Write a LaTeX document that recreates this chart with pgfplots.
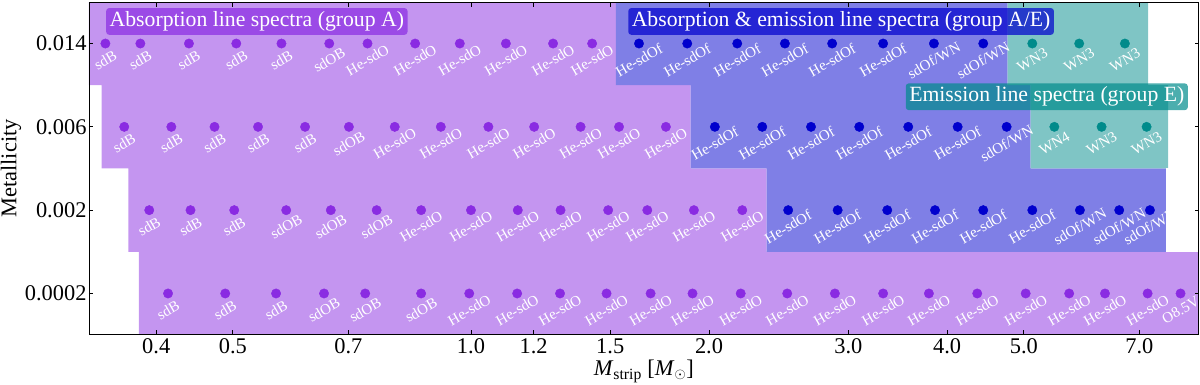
\documentclass[border=0pt]{standalone}
\usepackage{pgfplots}
\pgfplotsset{compat=1.18}
\usepackage{pgfplotstable}
\usepackage{fontspec}
\setmainfont{Liberation Serif}

\definecolor{purpdot}{RGB}{138,43,226}
\definecolor{bluedot}{RGB}{0,0,205}
\definecolor{tealdot}{RGB}{0,139,139}
\definecolor{purpfill}{RGB}{196,149,240}
\definecolor{bluefill}{RGB}{127,127,230}
\definecolor{tealfill}{RGB}{127,197,197}

% y: 0 = 0.0002, 1 = 0.002, 2 = 0.006, 3 = 0.014
\pgfplotstableread{
x y label
0.345 3 sdB
0.382 3 sdB
0.440 3 sdB
0.505 3 sdB
0.576 3 sdB
0.662 3 sdOB
0.740 3 He-sdO
0.850 3 He-sdO
0.968 3 He-sdO
1.107 3 He-sdO
1.270 3 He-sdO
1.423 3 He-sdO
0.3645 2 sdB
0.418 2 sdB
0.474 2 sdB
0.538 2 sdB
0.617 2 sdB
0.701 2 sdOB
0.801 2 He-sdO
0.916 2 He-sdO
1.052 2 He-sdO
1.202 2 He-sdO
1.376 2 He-sdO
1.539 2 He-sdO
1.764 2 He-sdO
0.392 1 sdB
0.442 1 sdB
0.502 1 sdB
0.584 1 sdOB
0.665 1 sdOB
0.760 1 sdOB
0.865 1 He-sdO
1.000 1 He-sdO
1.146 1 He-sdO
1.298 1 He-sdO
1.491 1 He-sdO
1.671 1 He-sdO
1.914 1 He-sdO
2.203 1 He-sdO
0.414 0 sdB
0.489 0 sdB
0.567 0 sdB
0.652 0 sdOB
0.735 0 sdOB
0.865 0 sdOB
0.995 0 He-sdO
1.144 0 He-sdO
1.296 0 He-sdO
1.484 0 He-sdO
1.687 0 He-sdO
1.906 0 He-sdO
2.193 0 He-sdO
2.511 0 He-sdO
2.885 0 He-sdO
3.320 0 He-sdO
3.793 0 He-sdO
4.366 0 He-sdO
5.027 0 He-sdO
5.706 0 He-sdO
6.333 0 He-sdO
7.170 0 He-sdO
7.892 0 O8.5V
}\groupA

\pgfplotstableread{
x y label
1.631 3 He-sdOf
1.877 3 He-sdOf
2.171 3 He-sdOf
2.494 3 He-sdOf
2.862 3 He-sdOf
3.320 3 He-sdOf
3.849 3 sdOf/WN
4.443 3 sdOf/WN
2.034 2 He-sdOf
2.335 2 He-sdOf
2.691 2 He-sdOf
3.097 2 He-sdOf
3.572 2 He-sdOf
4.124 2 He-sdOf
4.756 2 sdOf/WN
2.518 1 He-sdOf
2.908 1 He-sdOf
3.360 1 He-sdOf
3.861 1 He-sdOf
4.443 1 He-sdOf
5.125 1 He-sdOf
5.887 1 sdOf/WN
6.601 1 sdOf/WN
7.219 1 sdOf/WN
}\groupAE

\pgfplotstableread{
x y label
5.125 3 WN3
5.875 3 WN3
6.711 3 WN3
5.465 2 WN4
6.271 2 WN3
7.149 2 WN3
}\groupE

\pgfplotsset{
  spectype/.style={
    only marks, mark=*, mark size=4.7bp, color=#1,
    point meta=explicit symbolic,
    nodes near coords,
    every node near coord/.append style={
      anchor=center, yshift=-16.5bp, rotate=30, text=white,
      inner sep=0pt, font=\fontsize{15}{15}\selectfont},
  },
}
\tikzset{
  groupbox/.style={
    fill=#1, fill opacity=0.7, text opacity=1, text=white,
    rounded corners=3bp, anchor=west, inner xsep=3.5bp, inner ysep=3.5bp,
    font=\fontsize{21.8}{21.8}\selectfont},
}

\begin{document}
\begin{tikzpicture}
\useasboundingbox (-89bp,-50.7bp) rectangle (1111bp,334.3bp);
\begin{axis}[
  scale only axis, width=1109.5bp, height=331.6bp,
  xmode=log, xmin=0.3289, xmax=8.314,
  ymin=-0.49, ymax=3.49,
  xtick={0.4,0.5,0.7,1,1.2,1.5,2,3,4,5,7},
  xticklabels={0.4,0.5,0.7,1.0,1.2,1.5,2.0,3.0,4.0,5.0,7.0},
  minor xtick={},
  ytick={0,1,2,3},
  yticklabels={0.0002,0.002,0.006,0.014},
  tick align=inside,
  major tick length=4bp,
  tick style={black, line width=0.8bp},
  axis line style={line width=0.9bp},
  axis on top,
  /pgf/number format/assume math mode=true,
  ticklabel style={font=\fontsize{22.5}{22.5}\selectfont},
  xticklabel style={yshift=-1bp},
  yticklabel style={xshift=1bp},
  xlabel={\textit{M}\textsubscript{strip} [\textit{M}$_\odot$]},
  ylabel={Metallicity},
  every axis x label/.style={at={(rel axis cs:0.5,0)}, yshift=-37bp,
    anchor=center, font=\fontsize{22.5}{22.5}\selectfont},
  every axis y label/.style={at={(rel axis cs:0,0.5)}, xshift=-78bp,
    rotate=90, anchor=center, font=\fontsize{22.5}{22.5}\selectfont},
]
% shaded regions
\addplot[draw=none, fill=purpfill] coordinates {
  (0.30,3.6) (1.525,3.6) (1.525,2.5) (1.896,2.5) (1.896,1.5) (2.365,1.5)
  (2.365,0.5) (9,0.5) (9,-0.6) (0.3804,-0.6) (0.3804,0.5) (0.3688,0.5)
  (0.3688,1.5) (0.3413,1.5) (0.3413,2.5) (0.30,2.5)} -- cycle;
\addplot[draw=none, fill=bluefill] coordinates {
  (1.525,3.6) (4.771,3.6) (4.771,2.5) (5.101,2.5) (5.101,1.5) (7.562,1.5)
  (7.562,0.5) (2.365,0.5) (2.365,1.5) (1.896,1.5) (1.896,2.5) (1.525,2.5)} -- cycle;
\addplot[draw=none, fill=tealfill] coordinates {
  (4.771,3.6) (7.183,3.6) (7.183,2.5) (7.613,2.5) (7.613,1.5) (5.101,1.5)
  (5.101,2.5) (4.771,2.5)} -- cycle;
% points and spectral types
\addplot[spectype=purpdot] table[x=x, y=y, meta=label] {\groupA};
\addplot[spectype=bluedot] table[x=x, y=y, meta=label] {\groupAE};
\addplot[spectype=tealdot] table[x=x, y=y, meta=label] {\groupE};
% white area right of the A/E region at Z=0.002
\addplot[draw=none, fill=white] coordinates {
  (7.562,0.5) (9,0.5) (9,1.5) (7.562,1.5)} -- cycle;
% group labels
\node[groupbox=purpdot] at (axis cs:0.3456,3.265) {Absorption line spectra (group A)};
\node[groupbox=bluedot] at (axis cs:1.580,3.265) {Absorption \& emission line spectra (group A/E)};
\node[groupbox=tealdot] at (axis cs:3.544,2.361) {Emission line spectra (group E)};
\end{axis}
\end{tikzpicture}
\end{document}
